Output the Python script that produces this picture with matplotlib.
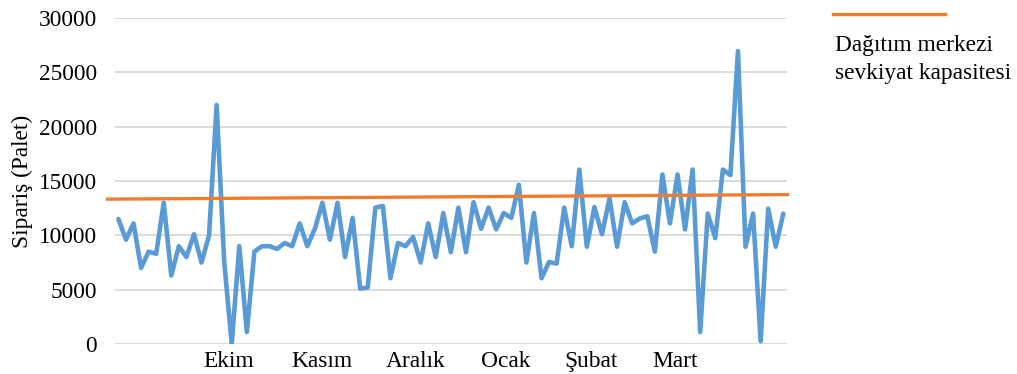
import matplotlib
matplotlib.use("Agg")
import matplotlib.pyplot as plt
import numpy as np

# Weekly-ish order volumes (pallets)
siparis = [
    11500, 9600, 11100, 7000, 8500, 8300, 13000, 6300, 9000, 8000,
    10100, 7500, 10000, 22000, 7600, 0, 9000, 1100, 8500, 9000,
    9000, 8750, 9300, 9000, 11100, 9000, 10600, 13000, 9600, 13000,
    8000, 11600, 5100, 5200, 12550, 12700, 6050, 9300, 9000, 9850,
    7500, 11100, 8000, 12050, 8450, 12550, 8450, 13050, 10600, 12550,
    10550, 12050, 11600, 14650, 7500, 12050, 6050, 7550, 7400, 12550,
    9000, 16050, 8950, 12600, 10100, 13400, 8950, 13050, 11100, 11550,
    11750, 8500, 15600, 11100, 15600, 10550, 16050, 1100, 12000, 9750,
    16050, 15550, 26950, 8950, 12000, 250, 12450, 8950, 12000,
]

# Distribution centre shipping capacity (start / end of the period)
kapasite = [13330, 13750]

ay_etiketleri = ["Ekim", "Kasım", "Aralık", "Ocak", "Şubat", "Mart"]
ay_konumlari = [14.55, 26.9, 39.3, 51.2, 62.6, 73.7]

plt.rcParams["font.family"] = ["Liberation Serif", "DejaVu Serif"]
FS = 16.8

fig = plt.figure(figsize=(10.17, 3.74), dpi=100)
W, H = 1017, 374
ax = fig.add_axes([115 / W, (H - 344) / H, (786.7 - 115) / W, (344 - 18) / H])

x = np.arange(len(siparis))
ax.plot(x, siparis, color="#5b9bd5", lw=3.3, solid_joinstyle="round",
        solid_capstyle="round", zorder=3)

cap_x = [-1.45, len(siparis) - 1 + 0.55]
ax.plot(cap_x, kapasite, color="#ed7d31", lw=2.4, clip_on=False, zorder=4)

ax.set_xlim(-0.45, len(siparis) - 1 + 0.45)
ax.set_ylim(0, 30000)
ax.set_yticks(np.arange(0, 30001, 5000))
ax.yaxis.grid(True, color="#d9d9d9", lw=1.3)
ax.set_axisbelow(True)
for s in ax.spines.values():
    s.set_visible(False)

ax.set_xticks(ay_konumlari)
ax.set_xticklabels(ay_etiketleri)
ax.tick_params(axis="both", length=0, labelsize=FS, colors="#000000")
ax.tick_params(axis="y", pad=13)
ax.tick_params(axis="x", pad=5)

ax.set_ylabel("Sipariş (Palet)", fontsize=FS, labelpad=4)

# Legend drawn beside the plot
fig.add_artist(plt.Line2D([833 / W, 945 / W], [(H - 14) / H] * 2,
                          color="#ed7d31", lw=2.4))
fig.text(835 / W, (H - 45) / H, "Dağıtım merkezi", fontsize=FS,
         va="center", ha="left")
fig.text(835 / W, (H - 73) / H, "sevkiyat kapasitesi", fontsize=FS,
         va="center", ha="left")

fig.savefig("out.png", dpi=100)
